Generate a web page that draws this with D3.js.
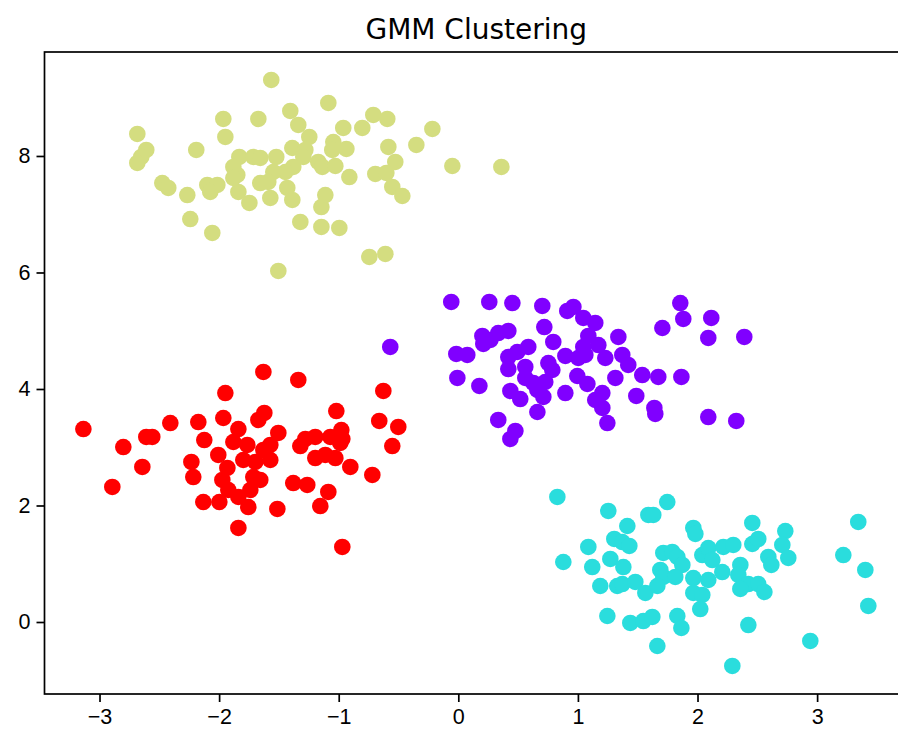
<!DOCTYPE html>
<html>
<head>
<meta charset="utf-8">
<script src="https://cdn.jsdelivr.net/npm/d3@7"></script>
<style>
html,body{margin:0;padding:0;background:#fff;overflow:hidden;}
svg{display:block;}
</style>
</head>
<body>
<script>
const title = "GMM Clustering";
const xTicks = [-3,-2,-1,0,1,2,3];
const yTicks = [0,2,4,6,8];
const clusterColors = ["#8000ff","#2adddd","#d4dd80","#ff0000"];

const cluster0X = [-0.059,0.259,0.452,0.702,0.911,-0.569,0.201,0.268,0.334,0.418,0.209,0.719,0.794,-0.017,0.075,0.418,0.493,0.585,0.895,0.418,0.560,0.753,0.786,-0.008,0.176,0.560,0.627,0.727,0.435,0.518,0.661,0.711,0.895,0.661,0.334,0.477,0.435,0.962,1.856,1.881,2.115,1.706,1.045,1.145,1.087,1.338,2.090,2.391,1.171,1.045,1.003,1.062,1.229,1.371,1.421,0.995,1.079,1.313,1.538,1.672,1.865,1.204,1.145,1.488,1.204,1.639,1.647,1.246,2.090,2.324];
const cluster0Y = [5.494,5.494,5.476,5.425,5.339,4.721,4.910,4.841,4.961,4.996,4.773,5.064,4.807,4.601,4.584,4.549,4.635,4.721,4.567,4.343,4.378,4.446,4.326,4.189,4.052,4.189,4.103,4.120,3.966,3.828,3.983,3.863,3.931,3.605,3.468,3.279,3.142,5.408,5.476,5.202,5.219,5.047,5.219,5.133,4.910,4.893,4.876,4.893,4.755,4.721,4.532,4.584,4.532,4.584,4.412,4.223,4.086,4.189,4.240,4.206,4.206,3.931,3.811,3.880,3.674,3.674,3.571,3.416,3.519,3.451];

const cluster1X = [0.828,1.254,1.747,1.589,1.630,1.413,1.965,1.982,1.087,1.304,1.371,1.430,1.714,1.789,1.831,2.040,2.090,0.878,1.120,1.271,1.380,1.873,1.689,1.714,1.814,1.965,2.090,1.187,1.329,1.371,1.480,1.564,1.664,1.965,2.040,2.023,1.246,1.438,1.547,1.622,1.831,1.865,1.664,2.458,2.734,3.344,2.216,2.299,2.458,2.508,2.709,2.592,2.617,2.759,3.219,2.124,2.358,2.207,2.341,2.425,2.508,2.559,2.358,3.403,3.428,2.425,2.943,2.291];
const cluster1Y = [2.146,1.906,2.060,1.837,1.837,1.648,1.614,1.511,1.288,1.425,1.373,1.305,1.185,1.202,1.116,1.150,1.270,1.030,0.944,1.082,0.944,0.979,0.893,0.773,0.773,0.755,0.721,0.618,0.618,0.652,0.687,0.498,0.618,0.498,0.464,0.223,0.103,-0.017,0.017,0.086,0.103,-0.103,-0.412,1.700,1.562,1.717,1.288,1.322,1.339,1.425,1.322,1.116,0.979,1.099,1.150,1.064,0.979,0.858,0.807,0.652,0.652,0.515,0.567,0.893,0.275,-0.052,-0.326,-0.755];

const cluster2X = [-1.564,-1.965,-1.672,-1.405,-1.338,-1.246,-2.684,-1.948,-2.609,-2.651,-2.684,-2.191,-1.388,-1.279,-1.296,-1.171,-1.831,-1.714,-1.656,-1.522,-1.881,-1.848,-1.380,-1.446,-1.547,-2.475,-2.425,-2.099,-2.015,-2.074,-2.266,-1.839,-1.656,-1.589,-1.430,-1.388,-1.747,-1.572,-1.321,-1.145,-2.241,-2.057,-1.505,-1.145,-1.087,-0.711,-0.594,-0.962,-0.803,-0.217,-1.045,-0.585,-0.351,-0.936,-1.054,-1.137,-1.028,-0.527,-0.694,-0.602,-0.911,-0.050,0.360,-0.552,-0.468,-1.112,-0.995,-0.744,-0.610,-1.881];
const cluster2Y = [9.305,8.635,8.635,8.773,8.532,8.326,8.378,8.326,8.103,7.983,7.880,8.103,8.137,8.103,7.983,7.897,7.983,7.983,7.966,7.983,7.811,7.674,7.811,7.725,7.725,7.536,7.451,7.502,7.502,7.382,7.330,7.382,7.536,7.554,7.451,7.245,7.193,7.279,6.867,7.124,6.918,6.678,6.026,6.781,8.910,8.704,8.635,8.481,8.481,8.464,8.240,8.155,8.189,8.120,8.103,7.811,7.828,7.897,7.691,7.708,7.639,7.828,7.811,7.468,7.313,7.330,6.764,6.266,6.318,7.622];

const cluster3X = [-1.948,-2.408,-2.174,-1.965,-3.135,-2.801,-2.609,-2.559,-2.124,-1.881,-2.007,-2.232,-2.216,-2.642,-2.893,-1.931,-1.973,-1.923,-2.132,-1.998,-1.839,-1.630,-1.338,-0.627,-1.622,-1.672,-1.020,-0.661,-0.502,-0.552,-1.839,-1.505,-0.978,-0.970,-1.070,-1.196,-1.279,-1.321,-1.764,-1.572,-1.798,-1.697,-1.572,-1.196,-1.112,-1.028,-0.903,-0.719,-1.714,-1.656,-1.380,-1.263,-1.087,-1.154,-1.513,-1.756,-1.839,-0.970,-1.739,-1.630,-0.987];
const cluster3Y = [3.931,3.416,3.433,3.502,3.313,3.004,3.176,3.176,3.124,3.090,2.867,2.747,2.489,2.661,2.318,2.644,2.438,2.266,2.060,2.060,1.614,4.292,4.155,3.966,3.588,3.468,3.622,3.451,3.348,3.021,3.313,3.245,3.296,3.142,3.176,3.176,3.142,3.021,3.039,3.039,2.781,2.747,2.781,2.815,2.867,2.815,2.661,2.524,2.489,2.438,2.386,2.352,2.232,1.991,1.940,1.974,2.146,1.288,2.266,2.953,3.073];

const clustersX = [cluster0X, cluster1X, cluster2X, cluster3X];
const clustersY = [cluster0Y, cluster1Y, cluster2Y, cluster3Y];

const W = 898, H = 733;
const plotLeft = 44.5, plotTop = 52, plotBottom = 694;
const xScale = d3.scaleLinear().domain([-3.46, 3.76]).range([plotLeft, plotLeft + 7.22 * 119.6]);
const yScale = d3.scaleLinear().domain([-1.236, 9.785]).range([plotBottom, plotTop]);

const svg = d3.select("body").append("svg").attr("width", W).attr("height", H)
  .style("font-family", "'DejaVu Sans', sans-serif");

const pts = [];
clustersX.forEach((xs, ci) => xs.forEach((x, i) => pts.push({x, y: clustersY[ci][i], c: ci})));

svg.append("g").selectAll("circle").data(pts).join("circle")
  .attr("cx", d => xScale(d.x))
  .attr("cy", d => yScale(d.y))
  .attr("r", 8.3)
  .attr("fill", d => clusterColors[d.c]);

const xAxis = d3.axisBottom(xScale).tickValues(xTicks).tickSize(8).tickPadding(7).tickFormat(d3.format("d"));
const yAxis = d3.axisLeft(yScale).tickValues(yTicks).tickSize(8).tickPadding(6).tickFormat(d3.format("d"));

const gx = svg.append("g").attr("transform", `translate(0,${plotBottom})`).call(xAxis);
const gy = svg.append("g").attr("transform", `translate(${plotLeft},0)`).call(yAxis);
[gx, gy].forEach(g => {
  g.select(".domain").remove();
  g.selectAll(".tick line").attr("stroke", "#000").attr("stroke-width", 1.7);
  g.selectAll(".tick text").attr("fill", "#000").style("font-size", "21.5px");
});

svg.append("rect").attr("x", plotLeft).attr("y", plotTop)
  .attr("width", xScale.range()[1] - plotLeft).attr("height", plotBottom - plotTop)
  .attr("fill", "none").attr("stroke", "#000").attr("stroke-width", 1.7);

svg.append("text").attr("x", (plotLeft + xScale.range()[1]) / 2).attr("y", 39)
  .attr("text-anchor", "middle").style("font-size", "28px").attr("fill", "#000")
  .text(title);
</script>
</body>
</html>
